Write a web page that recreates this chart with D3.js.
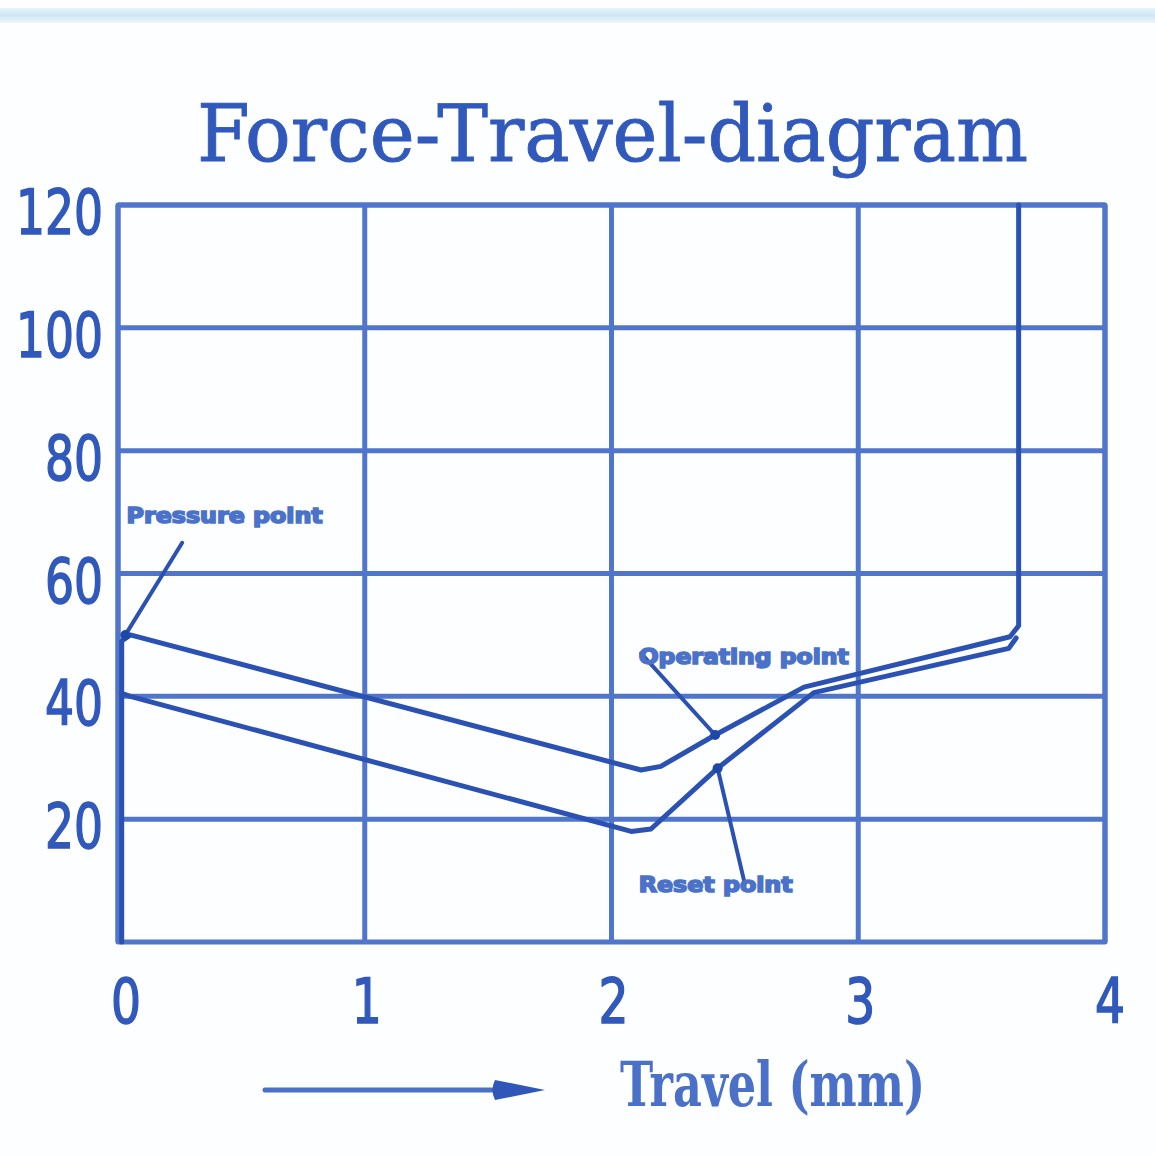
<!DOCTYPE html>
<html>
<head>
<meta charset="utf-8">
<script src="https://cdn.jsdelivr.net/npm/d3@7"></script>
<style>
  body { margin: 0; background: #fdfeff; }
  svg { display: block; }
</style>
</head>
<body>
<svg id="chart" width="1155" height="1155"></svg>
<script>
// chart data
const xTicks = [0, 1, 2, 3, 4];
const yTicks = [20, 40, 60, 80, 100, 120];
// travel (mm), force
const pressCurve = [[0.015, 0], [0.015, 49], [0.05, 50], [2.12, 28], [2.2, 28.6], [2.42, 33.7], [2.78, 41.5], [3.615, 49.7], [3.65, 51.5], [3.65, 120]];
const releaseCurve = [[0.015, 40.5], [0.05, 40], [2.08, 18], [2.16, 18.4], [2.43, 28.3], [2.82, 40.6], [3.61, 47.8], [3.64, 49.5]];
const annotations = [
    { label: "Pressure point", tx: 0.035, ty: 68.2, from: [0.26, 65], to: [0.03, 50] },
    { label: "Operating point", tx: 2.11, ty: 45.3, from: [2.12, 47], to: [2.42, 33.7] },
    { label: "Reset point", tx: 2.11, ty: 8.2, from: [2.54, 9.5], to: [2.43, 28.3] }
];
const title = "Force-Travel-diagram";
const xLabel = "Travel (mm)";

const svg = d3.select("#chart");
const gridColor = "#5076cb";
const lineColor = "#2b52b2";
const textColor = "#3159bb";

let x = d3.scaleLinear().domain([0, 4]).range([118, 1105]);
let y = d3.scaleLinear().domain([0, 120]).range([942, 205]);

// pale band at the top
let grad = svg.append("defs").append("linearGradient").attr("id", "band")
    .attr("x1", 0).attr("x2", 0).attr("y1", 0).attr("y2", 1);
grad.append("stop").attr("offset", "0%").attr("stop-color", "#e6f3fa");
grad.append("stop").attr("offset", "50%").attr("stop-color", "#cfe6f4");
grad.append("stop").attr("offset", "100%").attr("stop-color", "#eef7fb");
svg.append("rect").attr("x", 0).attr("y", 8).attr("width", 1155).attr("height", 15)
    .attr("fill", "url(#band)");

// title
let serif = "DejaVu Serif Condensed, DejaVu Serif, serif";
svg.append("text")
    .attr("x", 197).attr("y", 161)
    .attr("textLength", 831).attr("lengthAdjust", "spacingAndGlyphs")
    .attr("font-family", serif)
    .attr("font-size", 78)
    .attr("fill", textColor).attr("stroke", textColor).attr("stroke-width", 0.8)
    .text(title);

// grid
let grid = svg.append("g").attr("class", "grid")
    .attr("stroke", gridColor).attr("stroke-width", 5).attr("fill", "none");
grid.selectAll("line.h")
    .data(yTicks)
    .enter()
    .append("line").attr("class", "h")
    .attr("x1", x(0)).attr("x2", x(4))
    .attr("y1", d => y(d)).attr("y2", d => y(d));
grid.selectAll("line.v")
    .data(xTicks)
    .enter()
    .append("line").attr("class", "v")
    .attr("x1", d => x(d)).attr("x2", d => x(d))
    .attr("y1", y(0)).attr("y2", y(120));
grid.append("rect")
    .attr("x", x(0)).attr("y", y(120))
    .attr("width", x(4) - x(0)).attr("height", y(0) - y(120))
    .attr("stroke-linejoin", "round");

// tick labels
let tickFont = "DejaVu Sans Condensed, sans-serif";
svg.append("g").selectAll("text")
    .data(yTicks)
    .enter()
    .append("text")
    .attr("x", 103)
    .attr("y", d => y(d) + 29)
    .attr("text-anchor", "end")
    .attr("font-family", tickFont)
    .attr("font-size", 62)
    .attr("textLength", d => String(d).length * 29)
    .attr("lengthAdjust", "spacingAndGlyphs")
    .attr("fill", textColor).attr("stroke", textColor).attr("stroke-width", 1.5)
    .text(d => d);
svg.append("g").selectAll("text")
    .data(xTicks)
    .enter()
    .append("text")
    .attr("x", d => x(d) + (d == 0 ? 8 : d == 4 ? 5 : 2))
    .attr("y", 1023)
    .attr("text-anchor", "middle")
    .attr("font-family", tickFont)
    .attr("font-size", 62)
    .attr("textLength", 30)
    .attr("lengthAdjust", "spacingAndGlyphs")
    .attr("fill", textColor).attr("stroke", textColor).attr("stroke-width", 1.5)
    .text(d => d);

// curves
let line = d3.line().x(d => x(d[0])).y(d => y(d[1]));
svg.append("g").selectAll("path")
    .data([pressCurve, releaseCurve])
    .enter()
    .append("path")
    .attr("d", line)
    .attr("fill", "none")
    .attr("stroke", lineColor)
    .attr("stroke-width", 5)
    .attr("stroke-linejoin", "round")
    .attr("stroke-linecap", "round");

// annotations with leader lines
let notes = svg.append("g").attr("class", "notes");
notes.selectAll("line")
    .data(annotations)
    .enter()
    .append("line")
    .attr("x1", d => x(d.from[0])).attr("y1", d => y(d.from[1]))
    .attr("x2", d => x(d.to[0])).attr("y2", d => y(d.to[1]))
    .attr("stroke", lineColor).attr("stroke-width", 4)
    .attr("stroke-linecap", "round");
notes.selectAll("circle")
    .data(annotations)
    .enter()
    .append("circle")
    .attr("cx", d => x(d.to[0])).attr("cy", d => y(d.to[1]))
    .attr("r", 5).attr("fill", "#1f47a8");
notes.selectAll("text")
    .data(annotations)
    .enter()
    .append("text")
    .attr("x", d => x(d.tx)).attr("y", d => y(d.ty))
    .attr("font-family", "DejaVu Sans Condensed, sans-serif")
    .attr("font-weight", "bold")
    .attr("font-size", 21)
    .attr("textLength", d => d.label.length * 14)
    .attr("lengthAdjust", "spacingAndGlyphs")
    .attr("fill", "#4b72c9").attr("stroke", "#4b72c9").attr("stroke-width", 1.5)
    .text(d => d.label);

// travel arrow and label
svg.append("line")
    .attr("x1", 265).attr("x2", 500).attr("y1", 1090).attr("y2", 1090)
    .attr("stroke", "#4a70c8").attr("stroke-width", 5).attr("stroke-linecap", "round");
svg.append("path")
    .attr("d", "M495,1080 L545,1090 L495,1100 Q490,1090 495,1080 Z")
    .attr("fill", "#2f56b8");
svg.append("text")
    .attr("x", 620).attr("y", 1106)
    .attr("textLength", 305).attr("lengthAdjust", "spacingAndGlyphs")
    .attr("font-family", serif)
    .attr("font-weight", "bold")
    .attr("font-size", 62)
    .attr("fill", "#4a70c8")
    .text(xLabel);
</script>
</body>
</html>
